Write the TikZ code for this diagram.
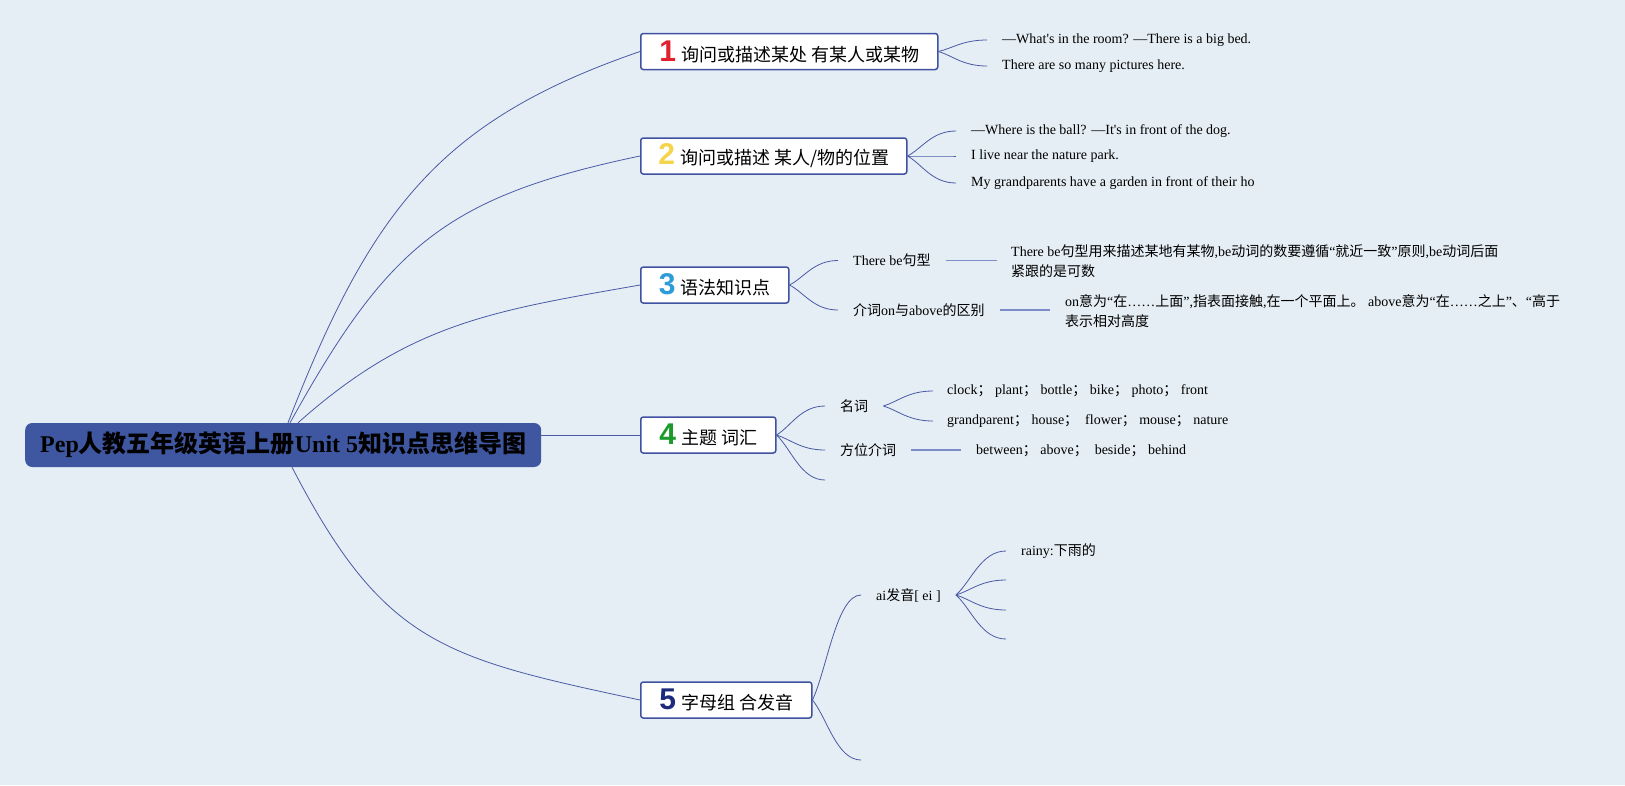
\documentclass[tikz,border=0pt]{standalone}
\usepackage{fontspec}
\setmainfont{Liberation Serif}
\newfontfamily\cjk{Noto Sans CJK SC}
\newfontfamily\numfont{Liberation Sans}
\usetikzlibrary{calc}
\definecolor{bg}{HTML}{E5EEF4}
\definecolor{rootfill}{HTML}{3F57A1}
\definecolor{boxline}{HTML}{3F51A0}
\definecolor{connc}{HTML}{4A5AA6}
\definecolor{linec}{HTML}{7C8CC8}
\definecolor{nA}{HTML}{E1222E}
\definecolor{nB}{HTML}{F3D44A}
\definecolor{nC}{HTML}{2C9BD8}
\definecolor{nD}{HTML}{1C9A2B}
\definecolor{nE}{HTML}{1C2A7C}
\newcommand\zh[1]{{\cjk #1}}
\newcommand\bnum[2]{{\numfont\bfseries\fontsize{30}{30}\selectfont\textcolor{#1}{#2}}\hspace{5pt}}
\begin{document}
\begin{tikzpicture}[x=1pt,y=-1pt,
  mainbox/.style={draw=boxline, line width=1.5pt, fill=white, rounded corners=2.5pt,
    minimum height=36pt, inner xsep=2pt, inner ysep=0pt, anchor=west,
    font=\cjk\fontsize{18}{20}\selectfont},
  rootbox/.style={fill=rootfill, rounded corners=7pt, minimum width=516pt,
    minimum height=44pt, anchor=west, inner sep=0pt,
    font=\bfseries\fontsize{24}{24}\selectfont},
  leaf/.style={anchor=west, inner xsep=15pt, inner ysep=1pt,
    font=\fontsize{14}{20}\selectfont, align=left},
  conn/.style={draw=connc, line width=0.8pt},
  sline/.style={draw=linec, line width=1.3pt},
  mm/.style={to path={let \p1=(\tikztostart), \p2=(\tikztotarget) in
    .. controls ($(\p1)!0.3!(\p2)$) and ({0.5*\x1+0.5*\x2},\y2) .. (\tikztotarget)}},
]
\useasboundingbox (0,0) rectangle (1625,785);
\fill[bg] (0,0) rectangle (1625,785);

% root
\node[rootbox] (r) at (25,445) {Pep\zh{人教五年级英语上册}Unit 5\zh{知识点思维导图}};

% main boxes
\node[mainbox, minimum width=297pt] (b1) at (640,51.5) {\bnum{nA}{1}询问或描述某处 有某人或某物};
\node[mainbox, minimum width=266pt] (b2) at (640,156) {\bnum{nB}{2}询问或描述 某人/物的位置};
\node[mainbox, minimum width=148pt] (b3) at (640,285) {\bnum{nC}{3}语法知识点};
\node[mainbox, minimum width=135pt] (b4) at (640,435) {\bnum{nD}{4}主题 词汇};
\node[mainbox, minimum width=171pt] (b5) at (640,700) {\bnum{nE}{5}字母组 合发音};

% root connectors
\draw[conn] ([xshift=263pt]r.north west) .. controls (371,209) and (441,120) .. (b1.west);
\draw[conn] ([xshift=265pt]r.north west) .. controls (387,248) and (444,197) .. (b2.west);
\draw[conn] ([xshift=273pt]r.north west) .. controls (410,323) and (492,311) .. (b3.west);
\draw[conn] ([yshift=10pt]r.east) -- (b4.west);
\draw[conn] ([xshift=267pt]r.south west) .. controls (384,645) and (444,658) .. (b5.west);

% branch 1
\node[leaf] (l11) at (987,40) {—What\textquotesingle s in the room? —There is a big bed.};
\node[leaf] (l12) at (987,66) {There are so many pictures here.};
\draw[conn] (b1.east) to[mm] (l11.west);
\draw[conn] (b1.east) to[mm] (l12.west);

% branch 2
\node[leaf] (l21) at (956,131) {—Where is the ball? —It\textquotesingle s in front of the dog.};
\node[leaf] (l22) at (956,156) {I live near the nature park.};
\node[leaf] (l23) at (956,183) {My grandparents have a garden in front of their ho};
\draw[conn] (b2.east) to[mm] (l21.west);
\draw[conn] (b2.east) to[mm] (l22.west);
\draw[conn] (b2.east) to[mm] (l23.west);

% branch 3
\node[leaf] (s31) at (838,260.5) {There be\zh{句型}};
\node[leaf] (s32) at (838,310) {\zh{介词}on\zh{与}above\zh{的区别}};
\node[leaf, inner xsep=14pt] (l31) at (997,261) {There be\zh{句型用来描述某地有某物},be\zh{动词的数要遵循}“\zh{就近一致}”\zh{原则},be\zh{动词后面}\\\zh{紧跟的是可数}};
\node[leaf, inner xsep=15pt] (l32) at (1050,311.5) {on\zh{意为}“\zh{在}……\zh{上面}”,\zh{指表面接触},\zh{在一个平面上。} above\zh{意为}“\zh{在}……\zh{之上}”\zh{、}“\zh{高于}\\\zh{表示相对高度}};
\draw[conn] (b3.east) to[mm] (s31.west);
\draw[conn] (b3.east) to[mm] (s32.west);
\draw[sline] (s31.east) -- (s31.east -| l31.west);
\draw[sline] (s32.east) -- (s32.east -| l32.west);

% branch 4
\node[leaf] (s41) at (825,406) {\zh{名词}};
\node[leaf] (s42) at (825,450) {\zh{方位介词}};
\coordinate (e43) at (825,480);
\node[leaf, inner xsep=14pt] (l41) at (933,391) {clock\zh{；} plant\zh{；} bottle\zh{；} bike\zh{；} photo\zh{；} front};
\node[leaf, inner xsep=14pt] (l42) at (933,421) {grandparent\zh{；} house\zh{；}\ \ flower\zh{；} mouse\zh{；} nature};
\node[leaf] (l43) at (961,451) {between\zh{；} above\zh{；}\ \ beside\zh{；} behind};
\draw[conn] (b4.east) to[mm] (s41.west);
\draw[conn] (b4.east) to[mm] (s42.west);
\draw[conn] (b4.east) to[mm] (e43);
\draw[conn] (s41.east) to[mm] (l41.west);
\draw[conn] (s41.east) to[mm] (l42.west);
\draw[sline] (s42.east) -- (s42.east -| l43.west);

% branch 5
\node[leaf] (s51) at (861,595) {ai\zh{发音}[ ei ]};
\coordinate (e52) at (861,760);
\node[leaf] (l51) at (1006,551) {rainy:\zh{下雨的}};
\coordinate (e54) at (1006,580);
\coordinate (e55) at (1006,610);
\coordinate (e56) at (1006,639);
\draw[conn] (b5.east) to[mm] (s51.west);
\draw[conn] (b5.east) to[mm] (e52);
\draw[conn] (s51.east) to[mm] (l51.west);
\draw[conn] (s51.east) to[mm] (e54);
\draw[conn] (s51.east) to[mm] (e55);
\draw[conn] (s51.east) to[mm] (e56);
\end{tikzpicture}
\end{document}
